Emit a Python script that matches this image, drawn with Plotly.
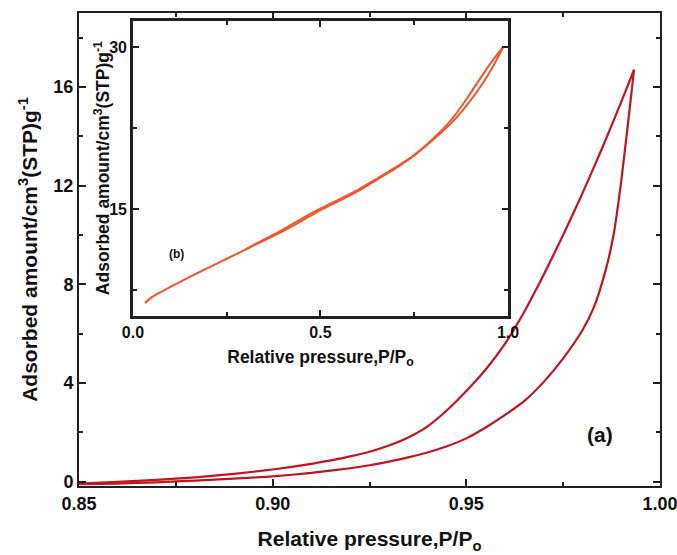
import plotly.graph_objects as go

# Main plot (a): hysteresis loop at high relative pressure
ads_p = [0.850, 0.860, 0.870, 0.880, 0.890, 0.900, 0.910, 0.920, 0.925, 0.930, 0.935, 0.940,
         0.945, 0.950, 0.955, 0.960, 0.965, 0.970, 0.975, 0.980, 0.983, 0.986, 0.988, 0.990,
         0.9919, 0.9933]
ads_v = [-0.09, -0.07, -0.02, 0.05, 0.13, 0.22, 0.36, 0.55, 0.67, 0.82, 0.99, 1.19,
         1.44, 1.76, 2.20, 2.71, 3.28, 4.05, 5.00, 6.15, 7.1, 8.6, 10.0, 12.2,
         14.75, 16.7]
des_p = [0.9933, 0.990, 0.985, 0.980, 0.975, 0.970, 0.965, 0.960, 0.955, 0.950, 0.945,
         0.940, 0.935, 0.930, 0.925, 0.920, 0.915, 0.910, 0.900, 0.890, 0.880, 0.870,
         0.860, 0.850]
des_v = [16.7, 15.4, 13.5, 11.7, 10.0, 8.4, 6.9, 5.6, 4.55, 3.68, 2.90,
         2.25, 1.80, 1.47, 1.22, 1.03, 0.87, 0.73, 0.50, 0.32, 0.18, 0.08,
         0.0, -0.07]

# Inset (b): full isotherm
in_ads_p = [0.032, 0.05, 0.07, 0.10, 0.15, 0.20, 0.25, 0.30, 0.35, 0.40, 0.45, 0.50,
            0.55, 0.60, 0.65, 0.70, 0.75, 0.80, 0.85, 0.89, 0.93, 0.96, 0.987]
in_ads_v = [6.3, 6.85, 7.25, 7.8, 8.7, 9.55, 10.4, 11.25, 12.1, 12.95, 13.9, 14.9,
            15.75, 16.65, 17.7, 18.75, 19.95, 21.4, 23.0, 24.6, 26.5, 28.2, 30.0]
in_des_p = [0.987, 0.96, 0.93, 0.89, 0.85, 0.80, 0.75, 0.70, 0.65, 0.60, 0.55, 0.50,
            0.45, 0.40, 0.35, 0.30]
in_des_v = [30.0, 28.8, 27.3, 25.2, 23.3, 21.5, 20.0, 18.85, 17.8, 16.78, 15.9, 15.05,
            14.1, 13.1, 12.2, 11.25]

main_col = "#c0151f"
inset_col = "#f2552c"
axcol = "#231f20"
font_family = "Liberation Sans, Arial, sans-serif"

fig = go.Figure()
for px_, vy_ in [(ads_p, ads_v), (des_p, des_v)]:
    fig.add_trace(go.Scatter(x=px_, y=vy_, mode="lines",
                             line=dict(color=main_col, width=2.2, shape="spline", smoothing=0.6),
                             xaxis="x", yaxis="y", showlegend=False))
for px_, vy_ in [(in_ads_p, in_ads_v), (in_des_p, in_des_v)]:
    fig.add_trace(go.Scatter(x=px_, y=vy_, mode="lines",
                             line=dict(color=inset_col, width=2, shape="spline", smoothing=0.6),
                             xaxis="x2", yaxis="y2", showlegend=False))

tf_main = dict(family=font_family, size=18, color="#111", weight="bold")
tf_in = dict(family=font_family, size=16, color="#111", weight="bold")

fig.update_layout(
    width=677, height=555, autosize=False,
    margin=dict(l=79, r=17, t=13, b=69, autoexpand=False),
    paper_bgcolor="white", plot_bgcolor="white",
    font=dict(family=font_family),
    xaxis=dict(range=[0.85, 1.0], tickvals=[0.85, 0.90, 0.95, 1.00], tickformat=".2f",
               automargin=False, ticklabeloverflow="allow",
               ticks="inside", ticklen=7, tickwidth=1.5, tickcolor=axcol,
               showline=True, linecolor=axcol, linewidth=2, mirror="ticks",
               showgrid=False, zeroline=False, tickfont=tf_main,
               minor=dict(ticks="inside", ticklen=4, tickcolor=axcol, dtick=0.025, tick0=0.85, showgrid=False),
               title=dict(text="Relative pressure,P/P<sub>o</sub>",
                          font=dict(family=font_family, size=21, color="#111", weight="bold"),
                          standoff=19)),
    yaxis=dict(range=[-0.17, 19.0], tickvals=[0, 4, 8, 12, 16],
               automargin=False, ticklabeloverflow="allow",
               ticks="inside", ticklen=7, tickwidth=1.5, tickcolor=axcol,
               showline=True, linecolor=axcol, linewidth=2, mirror="ticks",
               showgrid=False, zeroline=False, tickfont=tf_main,
               minor=dict(ticks="inside", ticklen=4, tickcolor=axcol, dtick=2, tick0=0, showgrid=False),
               title=dict(text="Adsorbed amount/cm<sup>3</sup>(STP)g<sup>-1</sup>",
                          font=dict(family=font_family, size=21, color="#111", weight="bold"),
                          standoff=10)),
    xaxis2=dict(domain=[0.0929, 0.7384], anchor="y2", range=[0, 1.0], tickvals=[0, 0.5, 1.0],
                tickformat=".1f", automargin=False, ticklabeloverflow="allow",
                ticks="inside", ticklen=6, tickwidth=1.5, tickcolor=axcol,
                showline=True, linecolor=axcol, linewidth=2.5, mirror="ticks",
                showgrid=False, zeroline=False, tickfont=tf_in,
                minor=dict(ticks="inside", ticklen=4, tickcolor=axcol, dtick=0.25, tick0=0, showgrid=False),
                title=dict(text="Relative pressure,P/P<sub>o</sub>",
                           font=dict(family=font_family, size=17.5, color="#111", weight="bold"),
                           standoff=11)),
    yaxis2=dict(domain=[0.3594, 0.9831], anchor="x2", range=[5.1, 32.4], tickvals=[15, 30],
                automargin=False, ticklabeloverflow="allow",
                ticks="inside", ticklen=6, tickwidth=1.5, tickcolor=axcol,
                showline=True, linecolor=axcol, linewidth=2.5, mirror="ticks",
                showgrid=False, zeroline=False, tickfont=tf_in,
                minor=dict(ticks="inside", ticklen=4, tickcolor=axcol, dtick=7.5, tick0=0, showgrid=False)),
    annotations=[
        dict(text="Adsorbed amount/cm<sup>3</sup>(STP)g<sup>-1</sup>", textangle=-90,
             x=0.0396, y=0.672, xref="paper", yref="paper", showarrow=False,
             xanchor="center", yanchor="middle",
             font=dict(family=font_family, size=17.5, color="#111", weight="bold")),
        dict(text="(a)", x=0.9844, y=1.9, xref="x", yref="y", showarrow=False,
             font=dict(family=font_family, size=21, color="#111", weight="bold")),
        dict(text="(b)", x=0.117, y=10.84, xref="x2", yref="y2", showarrow=False,
             font=dict(family=font_family, size=12, color="#111", weight="bold")),
    ],
)

fig.write_html("out.html")
